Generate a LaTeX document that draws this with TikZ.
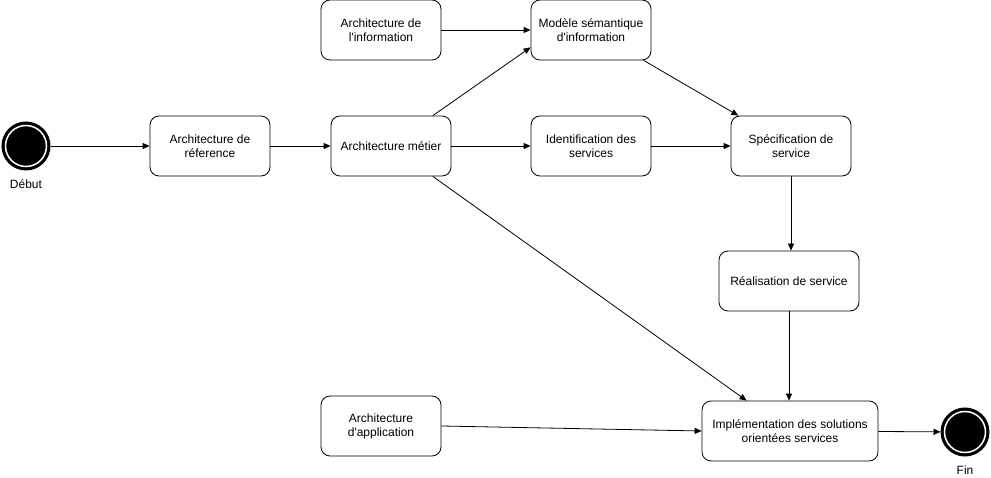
\documentclass[tikz,border=0pt]{standalone}
\usepackage{fontspec}
\setmainfont{Liberation Sans}
\usepackage{tikz}
\usetikzlibrary{calc,arrows.meta}

\begin{document}
\begin{tikzpicture}[x=1pt,y=-1pt]
        \tikzstyle{every node}=[font=\fontsize{12}{14}\selectfont]
        \tikzstyle{etape}=[draw,rounded corners=9pt,minimum width=120pt,minimum height=60pt,align=center,inner sep=2pt,line width=0.8pt]
        \tikzstyle{borne}=[circle,fill=black,draw=black,minimum size=48pt,inner sep=0pt,line width=1pt]
        \tikzstyle{fleche}=[-{Triangle[length=7pt,width=6pt]},line width=0.8pt]
            \useasboundingbox (0,0) rectangle (991,478);

            \node[borne] (debut) at (26,146) {};
            \draw[white,line width=1.5pt] (debut.center) circle (20.5pt);
            \node (ldebut) at ($(debut)+(0,38)$) {Début};

            \node[etape] (ref) at (210,146) {Architecture de\\réference};
            \node[etape] (metier) at (391,146) {Architecture métier};
            \node[etape] (info) at (381,30) {Architecture de\\l\textquotesingle information};
            \node[etape] (modele) at (591,30) {Modèle sémantique\\d\textquotesingle information};
            \node[etape] (ident) at ($(metier)+(200,0)$) {Identification des\\services};
            \node[etape] (spec) at ($(ident)+(200,0)$) {Spécification de\\service};
            \node[etape,minimum width=140pt] (real) at ($(spec)+(-2,135)$) {Réalisation de service};
            \node[etape] (appli) at (381,426) {Architecture\\d\textquotesingle application};
            \node[etape,minimum width=176pt] (impl) at (790,431) {Implémentation des solutions\\orientées services};

            \node[borne] (fin) at (965,432) {};
            \draw[white,line width=1.5pt] (fin.center) circle (20.5pt);
            \node (lfin) at ($(fin)+(0,38)$) {Fin};

            \draw[fleche] (debut) -- (ref);
            \draw[fleche] (ref) -- (metier);
            \draw[fleche] (metier) -- (ident);
            \draw[fleche] (metier.36) -- (modele.196);
            \draw[fleche] (info) -- (info -| modele.west);
            \draw[fleche] (modele.-30) -- (spec.150);
            \draw[fleche] (ident) -- (spec);
            \draw[fleche] (spec.south) -- (spec.south |- real.north);
            \draw[fleche] (real.south) -- (real.south |- impl.north);
            \draw[fleche] (metier.-36) -- (impl.145);
            \draw[fleche] (appli.east) -- (impl.west);
            \draw[fleche] (impl) -- (fin);

        \end{tikzpicture}
\end{document}
